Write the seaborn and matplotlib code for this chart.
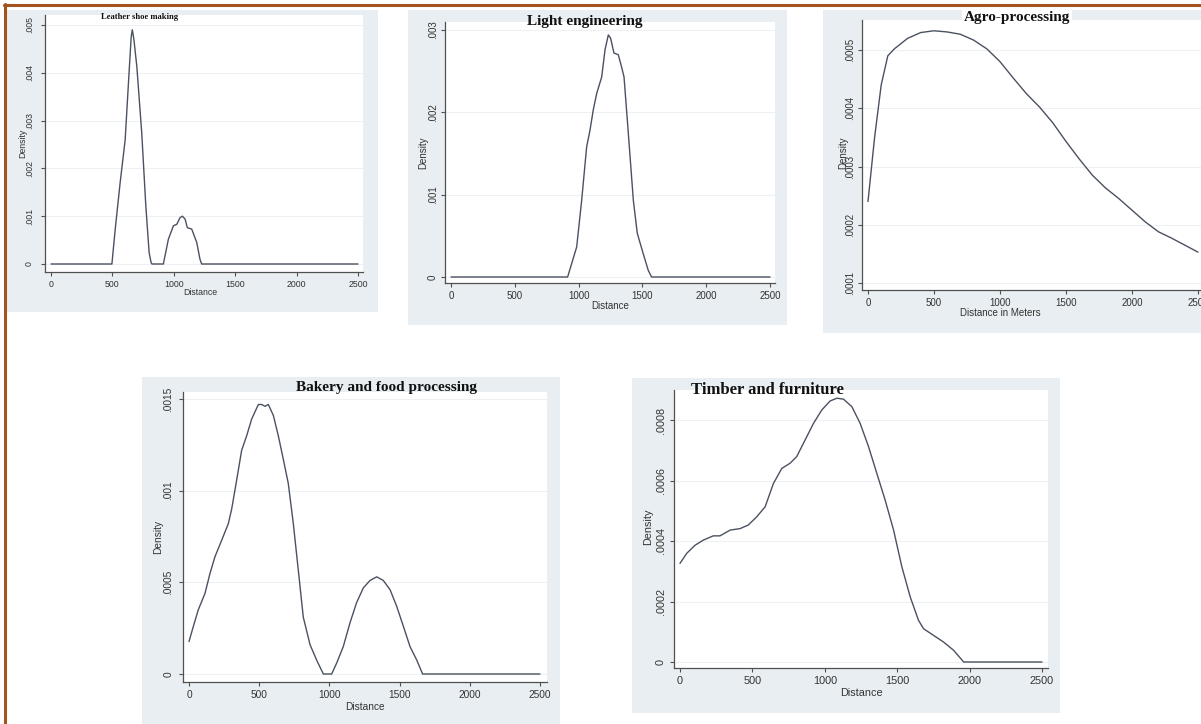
import numpy as np
import pandas as pd
import matplotlib
matplotlib.use("Agg")
import matplotlib.pyplot as plt
import seaborn as sns
from matplotlib.patches import Rectangle
from matplotlib.lines import Line2D

sns.set_theme(style="white")
plt.rcParams["font.family"] = ["Liberation Sans", "DejaVu Sans"]

# ---------------- data ----------------
x_ticks = [0, 500, 1000, 1500, 2000, 2500]
x_tick_labels = ["0", "500", "1000", "1500", "2000", "2500"]

titles = ["Leather shoe making", "Light engineering", "Agro-processing",
          "Bakery and food processing", "Timber and furniture"]
x_labels = ["Distance", "Distance", "Distance in Meters", "Distance", "Distance"]
y_label = "Density"

leather_x = [0, 496, 523, 563, 604, 631, 653, 662, 675, 699, 739, 772, 799, 815, 822,
             915, 956, 997, 1024, 1051, 1070, 1092, 1110, 1146, 1187, 1213, 1227, 2500]
leather_y = [0, 0, 0.00073, 0.0017, 0.0026, 0.0038, 0.00475, 0.0049, 0.0047, 0.00413,
             0.00274, 0.00122, 0.00024, 0.00003, 0, 0, 0.00052, 0.0008, 0.00083, 0.00097,
             0.001, 0.00094, 0.00076, 0.00073, 0.00045, 0.0001, 0, 0]
leather_yticks = [0, 0.001, 0.002, 0.003, 0.004, 0.005]
leather_ytick_labels = ["0", ".001", ".002", ".003", ".004", ".005"]

light_x = [0, 914, 985, 1024, 1063, 1089, 1115, 1142, 1181, 1207, 1233, 1251, 1277,
           1311, 1337, 1356, 1390, 1429, 1460, 1507, 1546, 1572, 2500]
light_y = [0, 0, 0.000365, 0.00093, 0.00158, 0.00178, 0.00203, 0.00223, 0.00243, 0.00276,
           0.00294, 0.0029, 0.00272, 0.0027, 0.00255, 0.00243, 0.00174, 0.00093, 0.00053,
           0.00028, 0.00008, 0, 0]
light_yticks = [0, 0.001, 0.002, 0.003]
light_ytick_labels = ["0", ".001", ".002", ".003"]

agro_x = [0, 50, 100, 150, 200, 300, 400, 500, 600, 700, 800, 900, 1000, 1100, 1200,
          1300, 1400, 1500, 1600, 1700, 1800, 1900, 2000, 2100, 2200, 2300, 2400, 2500]
agro_y = [0.00024, 0.00035, 0.00044, 0.00049, 0.000502, 0.00052, 0.00053, 0.000533,
          0.000531, 0.000527, 0.000517, 0.000502, 0.00048, 0.000452, 0.000425, 0.000402,
          0.000375, 0.000343, 0.000313, 0.000285, 0.000263, 0.000245, 0.000225, 0.000205,
          0.000188, 0.000177, 0.000165, 0.000153]
agro_yticks = [0.0001, 0.0002, 0.0003, 0.0004, 0.0005]
agro_ytick_labels = [".0001", ".0002", ".0003", ".0004", ".0005"]

bakery_x = [0, 31, 66, 114, 150, 185, 233, 280, 304, 340, 375, 411, 446, 494, 518, 541,
            565, 601, 636, 672, 707, 743, 778, 814, 862, 909, 957, 1016, 1052, 1099, 1147,
            1194, 1242, 1289, 1337, 1384, 1432, 1479, 1527, 1574, 1622, 1664, 2500]
bakery_y = [0.000177, 0.00026, 0.00035, 0.00044, 0.00055, 0.00064, 0.00073, 0.00082,
            0.0009, 0.00106, 0.00122, 0.0013, 0.00139, 0.00147, 0.00147, 0.00146, 0.00147,
            0.00141, 0.0013, 0.00117, 0.00104, 0.00082, 0.00057, 0.00031, 0.00016,
            0.000076, 0, 0, 0.00006, 0.00015, 0.00028, 0.00039, 0.00047, 0.00051, 0.00053,
            0.00051, 0.00046, 0.00037, 0.00026, 0.00015, 0.000076, 0, 0]
bakery_yticks = [0, 0.0005, 0.001, 0.0015]
bakery_ytick_labels = ["0", ".0005", ".001", ".0015"]

timber_x = [0, 46, 104, 161, 230, 276, 346, 415, 472, 530, 588, 645, 703, 760, 806, 864,
            922, 979, 1037, 1083, 1129, 1187, 1244, 1302, 1359, 1417, 1475, 1532, 1590,
            1647, 1682, 1751, 1820, 1889, 1959, 2500]
timber_y = [0.000326, 0.000359, 0.000386, 0.000403, 0.000417, 0.000417, 0.000436,
            0.000441, 0.000453, 0.00048, 0.000513, 0.00059, 0.00064, 0.000657, 0.000679,
            0.000734, 0.000789, 0.000833, 0.000863, 0.000872, 0.000869, 0.000844,
            0.000789, 0.000712, 0.000624, 0.000535, 0.000436, 0.000315, 0.000215,
            0.000138, 0.00011, 0.000088, 0.000066, 0.000039, 0, 0]
timber_yticks = [0, 0.0002, 0.0004, 0.0006, 0.0008]
timber_ytick_labels = ["0", ".0002", ".0004", ".0006", ".0008"]

series = [(leather_x, leather_y, leather_yticks, leather_ytick_labels),
          (light_x, light_y, light_yticks, light_ytick_labels),
          (agro_x, agro_y, agro_yticks, agro_ytick_labels),
          (bakery_x, bakery_y, bakery_yticks, bakery_ytick_labels),
          (timber_x, timber_y, timber_yticks, timber_ytick_labels)]

# ---------------- layout (pixels of a 1201 x 724 canvas) ----------------
W, H = 1201, 724
layout = [
    dict(gray=(7, 10, 378, 312), ax=(45, 15, 363, 272), xpx=(51, 358),
         ypx=((0, 264), (0.005, 25)), title=(140, 17, 6.2), ylab=(23, 143), xlab=(200, 293),
         fs=6.3, ypad=5.0, xpad=3.0),
    dict(gray=(408, 10, 787, 325), ax=(445, 22, 775, 283), xpx=(451, 770),
         ypx=((0, 277), (0.003, 30)), title=(585, 22, 11), ylab=(423, 153), xlab=(610, 306),
         fs=7, ypad=2.0, xpad=3.0),
    dict(gray=(823, 10, 1201, 333), ax=(862, 20, 1210, 290), xpx=(868, 1198),
         ypx=((0.0001, 283), (0.0005, 50)), title=(1017, 18, 11), ylab=(843, 153), xlab=(1000, 313),
         fs=7, ypad=2.0, xpad=3.0),
    dict(gray=(142, 377, 560, 724), ax=(183, 392, 547, 682), xpx=(189, 540),
         ypx=((0, 674), (0.0015, 399)), title=(386, 387, 11), ylab=(158, 537), xlab=(365, 707),
         fs=7.3, ypad=4.0, xpad=3.0),
    dict(gray=(632, 378, 1060, 713), ax=(674, 390, 1048, 668), xpx=(680, 1042),
         ypx=((0, 662), (0.0008, 420)), title=(767, 390, 12), ylab=(648, 527), xlab=(861, 693),
         fs=7.8, ypad=3.0, xpad=3.0),
]

line_color = "#4a5160"
spine_color = "#505050"
text_color = "#333333"
gray_bg = "#e8eef1"
grid_color = "#edf1f3"

fig = plt.figure(figsize=(W / 100, H / 100), dpi=100)
fig.patch.set_facecolor("white")


def fx(px):
    return px / W


def fy(py):
    return 1 - py / H


for (xs, ys, yt, ytl), lay, title, xlab in zip(series, layout, titles, x_labels):
    gx0, gy0, gx1, gy1 = lay["gray"]
    fig.patches.append(Rectangle((fx(gx0), fy(gy1)), fx(gx1 - gx0), (gy1 - gy0) / H,
                                 transform=fig.transFigure, facecolor=gray_bg,
                                 edgecolor="none", zorder=-5))
    L, T, R, B = lay["ax"]
    ax = fig.add_axes([fx(L), fy(B), fx(R - L), (B - T) / H])
    ax.set_zorder(1)
    ax.set_facecolor("white")
    df = pd.DataFrame({"Distance": xs, "Density": ys})
    sns.lineplot(data=df, x="Distance", y="Density", ax=ax, color=line_color,
                 linewidth=1.0, estimator=None, sort=False)
    x0p, x1p = lay["xpx"]
    sx = (x1p - x0p) / 2500.0
    ax.set_xlim((L - x0p) / sx, (R - x0p) / sx)
    (v0, p0), (v1, p1) = lay["ypx"]
    sy = (p0 - p1) / (v1 - v0)
    ax.set_ylim(v0 - (B - p0) / sy, v0 + (p0 - T) / sy)

    ax.set_xticks(x_ticks)
    ax.set_xticklabels(x_tick_labels)
    ax.set_yticks(yt)
    ax.set_yticklabels(ytl, rotation=90, va="center")
    ax.tick_params(axis="both", which="both", direction="out", length=3, width=0.8,
                   color=spine_color, labelsize=lay["fs"], labelcolor=text_color,
                   left=True, bottom=True)
    ax.tick_params(axis="y", pad=lay["ypad"])
    ax.tick_params(axis="x", pad=lay["xpad"])
    for side in ["top", "right"]:
        ax.spines[side].set_visible(False)
    for side in ["left", "bottom"]:
        ax.spines[side].set_visible(True)
        ax.spines[side].set_color(spine_color)
        ax.spines[side].set_linewidth(0.9)
    for v in yt:
        ax.axhline(v, color=grid_color, linewidth=0.8, zorder=0.5)

    ax.set_ylabel(y_label, fontsize=lay["fs"], color=text_color)
    ax.set_xlabel(xlab, fontsize=lay["fs"], color=text_color)
    ax.yaxis.label.set_verticalalignment("center")
    ax.xaxis.label.set_verticalalignment("center")
    lx, ly = lay["ylab"]
    ax.yaxis.set_label_coords((lx - L) / (R - L), (B - ly) / (B - T))
    lx, ly = lay["xlab"]
    ax.xaxis.set_label_coords((lx - L) / (R - L), (B - ly) / (B - T))

    tcx, tcy, tsz = lay["title"]
    bbox = dict(facecolor="white", edgecolor="none", pad=1.5) if title == "Agro-processing" else None
    fig.text(fx(tcx), fy(tcy), title, ha="center", va="center", fontsize=tsz,
             fontweight="bold", family=["Liberation Serif", "DejaVu Serif"], color="#111111",
             bbox=bbox, zorder=5)

fig.lines.append(Line2D([fx(4), fx(W)], [fy(4.5), fy(4.5)], transform=fig.transFigure,
                        color="#a4531c", linewidth=2.2, zorder=10))
fig.lines.append(Line2D([fx(5), fx(5)], [fy(3.5), fy(H)], transform=fig.transFigure,
                        color="#a4531c", linewidth=2.2, zorder=10))

fig.savefig("out.png", dpi=100)
